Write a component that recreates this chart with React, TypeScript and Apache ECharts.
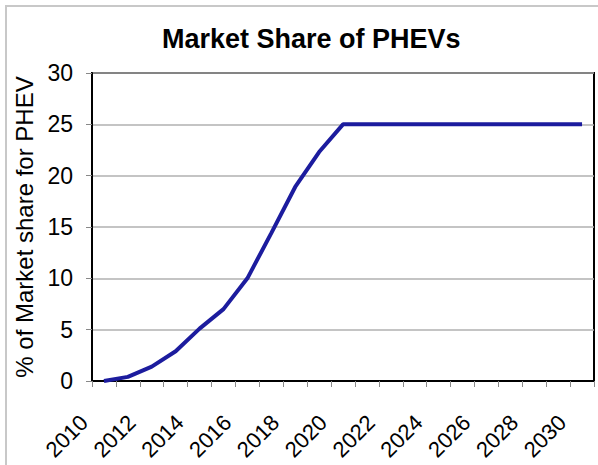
import React, { useEffect, useRef } from "react";
import * as echarts from "echarts";

const years = [
  "2010", "2011", "2012", "2013", "2014", "2015", "2016", "2017", "2018", "2019", "2020",
  "2021", "2022", "2023", "2024", "2025", "2026", "2027", "2028", "2029", "2030",
];
const share = [0, 0.4, 1.4, 2.9, 5.1, 7.0, 10, 14.4, 18.9, 22.3, 25, 25, 25, 25, 25, 25, 25, 25, 25, 25, 25];
const chartTitle = "Market Share of PHEVs";
const yTitle = "% of Market share for PHEV";

const FONT = "'Liberation Sans', Arial, sans-serif";

export default function App() {
  const ref = useRef<HTMLDivElement>(null);
  useEffect(() => {
    if (!ref.current) return;
    const chart = echarts.init(ref.current, null, { renderer: "svg" });
    chart.setOption({
      animation: false,
      backgroundColor: "#fff",
      title: {
        text: chartTitle,
        left: 157,
        top: 20,
        textStyle: { fontSize: 27, fontWeight: "bold", color: "#000", fontFamily: FONT },
      },
      graphic: [
        {
          type: "rect",
          z: -1,
          shape: { x: 6, y: 6, width: 640, height: 520 },
          style: { fill: "none", stroke: "#c8c8c8", lineWidth: 2 },
        },
      ],
      grid: {
        left: 92,
        right: 4,
        top: 73,
        bottom: 84,
        show: true,
        borderColor: "#000",
        borderWidth: 2,
        backgroundColor: "transparent",
      },
      xAxis: {
        type: "category",
        data: years,
        boundaryGap: true,
        axisLine: { show: true, lineStyle: { color: "#000", width: 2 } },
        axisTick: { show: true, interval: 0, length: 6, lineStyle: { color: "#888", width: 1 } },
        axisLabel: {
          interval: 1,
          rotate: 45,
          fontSize: 22,
          color: "#000",
          fontFamily: FONT,
          margin: 18,
          padding: [13, 28, 0, 0],
        },
        splitLine: { show: false },
      },
      yAxis: {
        type: "value",
        min: 0,
        max: 30,
        interval: 5,
        name: yTitle,
        nameLocation: "middle",
        nameGap: 56,
        nameTextStyle: { fontSize: 24, color: "#000", fontFamily: FONT },
        axisLine: { show: true, lineStyle: { color: "#000", width: 2 } },
        axisTick: { show: true, length: 6, lineStyle: { color: "#888", width: 1 } },
        axisLabel: { fontSize: 23, color: "#000", fontFamily: FONT, margin: 19 },
        splitLine: { show: true, lineStyle: { color: "#b0b0b0", width: 1.5 } },
      },
      series: [
        {
          type: "line",
          data: share,
          symbol: "none",
          smooth: false,
          lineStyle: { color: "#1c1c9e", width: 4 },
          z: 3,
        },
      ],
    });
    return () => chart.dispose();
  }, []);
  return <div ref={ref} style={{ position: "absolute", left: 0, top: 0, width: 598, height: 465 }} />;
}
